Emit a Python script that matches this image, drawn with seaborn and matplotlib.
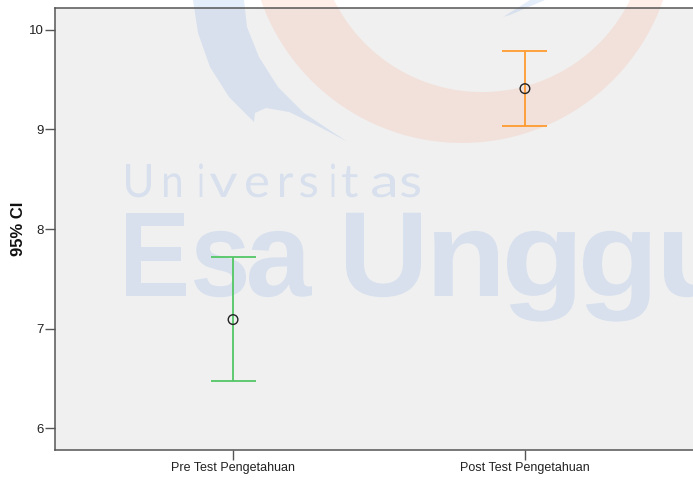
import numpy as np
import pandas as pd
import seaborn as sns
import matplotlib
matplotlib.use("Agg")
import matplotlib.pyplot as plt
from matplotlib.patches import Polygon, PathPatch
from matplotlib.path import Path
from matplotlib.textpath import TextPath
from matplotlib.font_manager import FontProperties
import matplotlib.transforms as mtransforms

# ---- data ----
categories = ["Pre Test Pengetahuan", "Post Test Pengetahuan"]
means = [7.09, 9.41]
ci_lower = [6.47, 9.03]
ci_upper = [7.72, 9.79]
bar_colors = ["#52c765", "#ff9b30"]
y_ticks = [6, 7, 8, 9, 10]
y_label = "95% CI"

sns.set_style("ticks")
plt.rcParams['font.family'] = ['Liberation Sans', 'DejaVu Sans']

W, H = 693, 480
fig = plt.figure(figsize=(W / 100, H / 100), dpi=100, facecolor="white")
ax = fig.add_axes([55 / W, 30 / H, 648 / W, 442 / H])
ax.set_facecolor("#f0f0f0")

df = pd.DataFrame(dict(test=categories, mean=means, lo=ci_lower, hi=ci_upper))
pos = np.arange(len(categories))
cap = 0.077
ax.vlines(pos, df["lo"], df["hi"], colors=bar_colors, lw=1.3, zorder=3)
ax.hlines(df["lo"], pos - cap, pos + cap, colors=bar_colors, lw=1.3, zorder=3)
ax.hlines(df["hi"], pos - cap, pos + cap, colors=bar_colors, lw=1.3, zorder=3)
sns.scatterplot(data=df, x="test", y="mean", ax=ax, marker="o", s=48,
                facecolors="none", edgecolors="#222222", linewidth=1.0, zorder=4)

ax.set_xlim(-0.61, 1.61)
ax.set_ylim(5.78, 10.22)
ax.set_yticks(y_ticks)
ax.set_xticks(pos, categories)
ax.set_xlabel("")
ax.set_ylabel(y_label, fontsize=12, fontweight="bold", color="#111111")
ax.yaxis.set_label_coords((26 - 55) / 648, 0.5)
for s in ax.spines.values():
    s.set_color("#555555")
    s.set_linewidth(1.1)
ax.tick_params(axis="y", length=7, width=1, color="#555555", labelsize=9.5,
               labelcolor="#222222", pad=1)
ax.tick_params(axis="x", length=7, width=1, color="#555555", labelsize=9,
               labelcolor="#222222", pad=2)

# ---- watermark (pixel coordinates, y measured from top) ----
ident = mtransforms.IdentityTransform()
blue = (0.39, 0.59, 0.90, 0.17)
salmon = (1.0, 0.59, 0.43, 0.16)

def px(pts):
    return [(x, H - y) for x, y in pts]

# salmon ring
th = np.linspace(0, 2 * np.pi, 240)
outer = np.c_[462 + 213 * np.cos(th), (H + 70) + 213 * np.sin(th)]
inner = np.c_[482 + 165 * np.cos(th[::-1]), (H + 73) + 165 * np.sin(th[::-1])]
verts = np.vstack([outer, inner])
codes = ([Path.MOVETO] + [Path.LINETO] * (len(outer) - 1)
         + [Path.MOVETO] + [Path.LINETO] * (len(inner) - 1))
ax.add_artist(PathPatch(Path(verts, codes), facecolor=salmon, edgecolor="none",
                        transform=ident, zorder=0.5, clip_on=False))

# blue crescent
cres = px([(193, 0), (198, 33), (210, 67), (229, 97), (254, 122),
           (255, 113), (266, 108), (289, 112), (312, 123), (348, 142),
           (334, 133), (304, 113), (278, 87), (259, 57), (247, 27), (244, 0)])
ax.add_artist(Polygon(cres, closed=True, facecolor=blue, edgecolor="none",
                      transform=ident, zorder=0.5, clip_on=False))
ax.add_artist(Polygon(px([(503, 17), (510, 15), (545, 0), (530, 0)]), closed=True,
                      facecolor=blue, edgecolor="none", transform=ident,
                      zorder=0.5, clip_on=False))

def glyph(ch, x0, x1, baseline, size, family, weight):
    fp = FontProperties(family=family, weight=weight)
    tp = TextPath((0, 0), ch, size=size, prop=fp)
    ext = tp.get_extents()
    sx = (x1 - x0) / max(ext.width, 1e-6)
    tr = (mtransforms.Affine2D().translate(-ext.x0, 0).scale(sx, 1)
          .translate(x0, H - baseline) + ident)
    ax.add_artist(PathPatch(tp, facecolor=blue, edgecolor="none", transform=tr,
                            zorder=0.5, clip_on=False))

small = [("U", 126, 151), ("n", 164, 181), ("i", 199, 203), ("v", 210, 237),
         ("e", 246, 268), ("r", 280, 293), ("s", 300, 317), ("i", 331, 335),
         ("t", 342, 358), ("a", 372, 395), ("s", 401, 420)]
for ch, a, b in small:
    glyph(ch, a, b, 197, 46, "Lato", "normal")

big = [("E", 126, 186), ("s", 194, 246), ("a", 249, 312), ("U", 346, 421),
       ("n", 434, 498), ("g", 507, 575), ("g", 583, 650), ("u", 664, 728)]
for ch, a, b in big:
    glyph(ch, a, b, 296, 121, "Liberation Sans", "bold")

fig.savefig("out.png", dpi=100, facecolor="white")
